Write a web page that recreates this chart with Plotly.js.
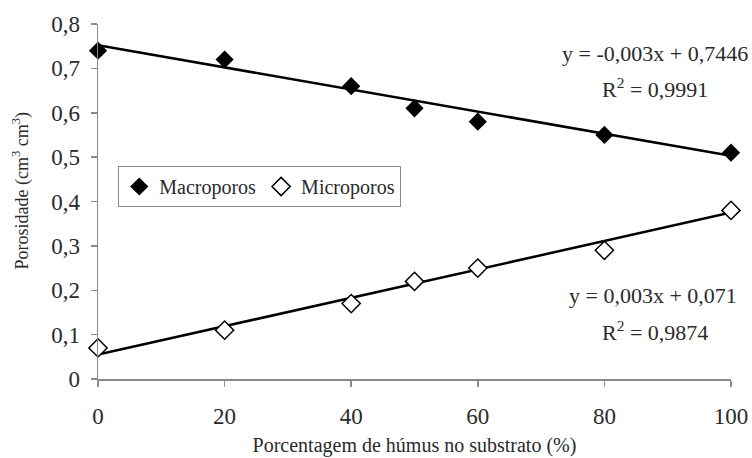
<!DOCTYPE html>
<html>
<head>
<meta charset="utf-8">
<script src="https://cdn.plot.ly/plotly-3.0.1.min.js"></script>
<style>html,body{margin:0;padding:0;background:#fff}#chart{width:752px;height:458px}</style>
</head>
<body>
<div id="chart"></div>
<script>
// Data
var humus = [0, 20, 40, 50, 60, 80, 100];
var macroporos = [0.74, 0.72, 0.66, 0.61, 0.58, 0.55, 0.51];
var microporos = [0.07, 0.11, 0.17, 0.22, 0.25, 0.29, 0.38];
// Trend line end points as drawn
var trendX = [0, 100];
var macroTrend = [0.752, 0.503];
var microTrend = [0.055, 0.375];
var xTicks = [0, 20, 40, 60, 80, 100];
var xTickText = ['0', '20', '40', '60', '80', '100'];
var yTicks = [0, 0.1, 0.2, 0.3, 0.4, 0.5, 0.6, 0.7, 0.8];
var yTickText = ['0', '0,1', '0,2', '0,3', '0,4', '0,5', '0,6', '0,7', '0,8'];

var serif = '"Liberation Serif", "Times New Roman", serif';
var txt = '#2a2a2a';
var traces = [
  {x: trendX, y: macroTrend, mode: 'lines', line: {color: '#000', width: 2.5}, showlegend: false, hoverinfo: 'skip'},
  {x: trendX, y: microTrend, mode: 'lines', line: {color: '#000', width: 2.5}, showlegend: false, hoverinfo: 'skip'},
  {x: humus, y: macroporos, mode: 'markers', name: 'Macroporos', cliponaxis: false,
   marker: {symbol: 'diamond', size: 14, color: '#000'}},
  {x: humus, y: microporos, mode: 'markers', name: 'Microporos', cliponaxis: false,
   marker: {symbol: 'diamond', size: 14, color: '#fff', line: {color: '#000', width: 1.5}}}
];
var axisCommon = {
  showgrid: false, zeroline: false, showline: true, linecolor: '#8a8a8a', linewidth: 1.5,
  ticks: 'outside', ticklen: 6, tickcolor: '#8a8a8a', tickwidth: 1.5,
  tickfont: {family: serif, size: 23, color: txt}
};
var layout = {
  width: 752, height: 458,
  margin: {l: 98, r: 21, t: 24, b: 79, autoexpand: false},
  paper_bgcolor: '#fff', plot_bgcolor: '#fff',
  showlegend: true,
  legend: {x: 0.032, y: 0.6, xanchor: 'left', yanchor: 'top', orientation: 'h',
    bordercolor: '#8a8a8a', borderwidth: 1, bgcolor: '#fff',
    font: {family: serif, size: 20, color: txt}, itemwidth: 30, tracegroupgap: 0},
  xaxis: Object.assign({}, axisCommon, {range: [0, 100], tickvals: xTicks, ticktext: xTickText, automargin: false,
    ticklabelstandoff: 10,
    title: {text: 'Porcentagem de húmus no substrato (%)', font: {family: serif, size: 20, color: txt}, standoff: 10}}),
  yaxis: Object.assign({}, axisCommon, {range: [0, 0.8], tickvals: yTicks, ticktext: yTickText, automargin: false,
    ticklabelstandoff: 6}),
  annotations: [
    {xref: 'paper', yref: 'paper', x: -0.121, y: 0.532, text: 'Porosidade (cm<sup>3</sup> cm<sup>3</sup>)', textangle: -90,
     showarrow: false, font: {family: serif, size: 18, color: txt}, xanchor: 'center', yanchor: 'middle'},
    {xref: 'paper', yref: 'paper', x: 0.88, y: 0.918, text: 'y = -0,003x + 0,7446', showarrow: false,
     font: {family: serif, size: 22, color: txt}, xanchor: 'center', yanchor: 'middle'},
    {xref: 'paper', yref: 'paper', x: 0.88, y: 0.82, text: 'R<sup>2</sup> = 0,9991', showarrow: false,
     font: {family: serif, size: 22, color: txt}, xanchor: 'center', yanchor: 'middle'},
    {xref: 'paper', yref: 'paper', x: 0.877, y: 0.234, text: 'y = 0,003x + 0,071', showarrow: false,
     font: {family: serif, size: 22, color: txt}, xanchor: 'center', yanchor: 'middle'},
    {xref: 'paper', yref: 'paper', x: 0.88, y: 0.135, text: 'R<sup>2</sup> = 0,9874', showarrow: false,
     font: {family: serif, size: 22, color: txt}, xanchor: 'center', yanchor: 'middle'}
  ]
};
Plotly.newPlot('chart', traces, layout, {displayModeBar: false, staticPlot: true});
</script>
</body>
</html>
